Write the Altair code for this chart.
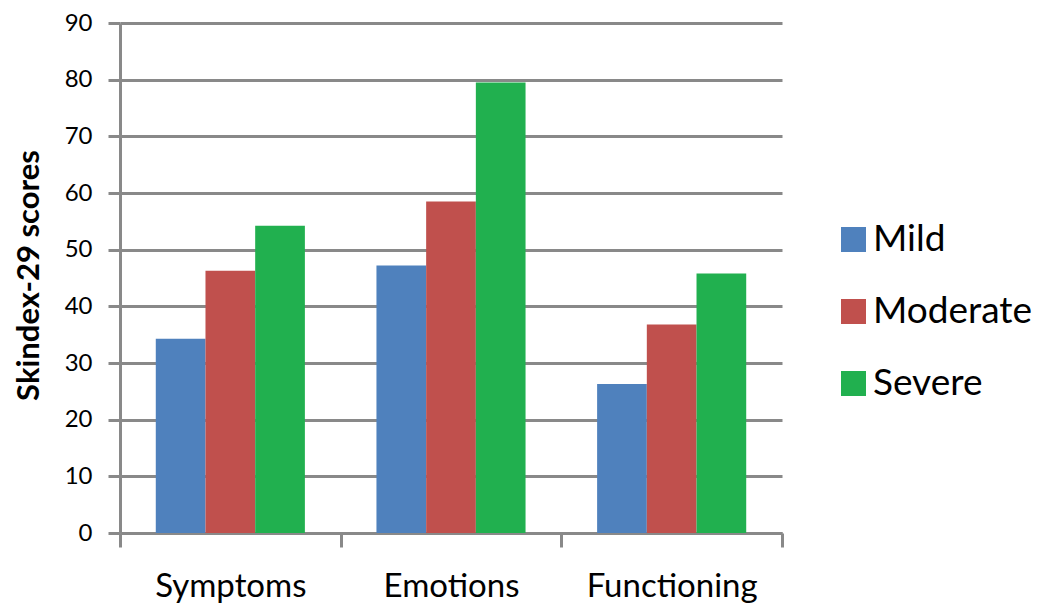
import altair as alt
import pandas as pd

categories = ["Symptoms", "Emotions", "Functioning"]
severities = ["Mild", "Moderate", "Severe"]
mild = [34.3, 47.2, 26.3]
moderate = [46.3, 58.5, 36.8]
severe = [54.2, 79.5, 45.8]
colors = ["#4F81BD", "#C0504D", "#21B04F"]
y_ticks = [0, 10, 20, 30, 40, 50, 60, 70, 80, 90]

rows = []
for sev, vals in zip(severities, [mild, moderate, severe]):
    for cat, v in zip(categories, vals):
        rows.append({"Domain": cat, "Severity": sev, "Score": v})
df = pd.DataFrame(rows)

GRAY = "#898989"
FONT = "Lato"

chart = alt.Chart(df).mark_bar().encode(
    x=alt.X("Domain:N", sort=categories,
            scale=alt.Scale(paddingInner=0, paddingOuter=0),
            axis=alt.Axis(title=None, labelAngle=0, labelFont=FONT, labelFontSize=33,
                          labelColor="black", labelPadding=23,
                          tickBand="extent", ticks=True, tickSize=14, tickWidth=3,
                          tickColor=GRAY, domainColor=GRAY, domainWidth=3, grid=False)),
    xOffset=alt.XOffset("Severity:N", sort=severities,
                        scale=alt.Scale(paddingInner=0, paddingOuter=0.72)),
    y=alt.Y("Score:Q", scale=alt.Scale(domain=[0, 90], nice=False),
            axis=alt.Axis(title="Skindex-29 scores", values=y_ticks,
                          titleFont=FONT, titleFontSize=31, titleFontWeight="bold",
                          titleColor="black", titleX=-82, titleY=252,
                          titleAngle=270, titleAlign="center", titleBaseline="alphabetic",
                          labelFont=FONT, labelFontSize=24, labelColor="black",
                          labelPadding=16, tickSize=12, tickWidth=3, tickColor=GRAY,
                          domainColor=GRAY, domainWidth=3,
                          grid=True, gridColor=GRAY, gridWidth=3)),
    color=alt.Color("Severity:N", sort=severities,
                    scale=alt.Scale(domain=severities, range=colors),
                    legend=alt.Legend(title=None, orient="none", legendX=715, legendY=198,
                                      symbolType="square", symbolSize=625,
                                      symbolStrokeWidth=0, labelFont=FONT,
                                      labelFontSize=37, labelColor="black",
                                      labelOffset=1, labelLimit=400, rowPadding=34)),
).properties(
    width=662, height=510,
    autosize=alt.AutoSizeParams(type="none"),
    padding={"left": 112, "top": 15, "right": 260, "bottom": 73},
).configure_view(stroke=None)

chart.save("out.html", embed_options={"renderer": "svg", "actions": False})
